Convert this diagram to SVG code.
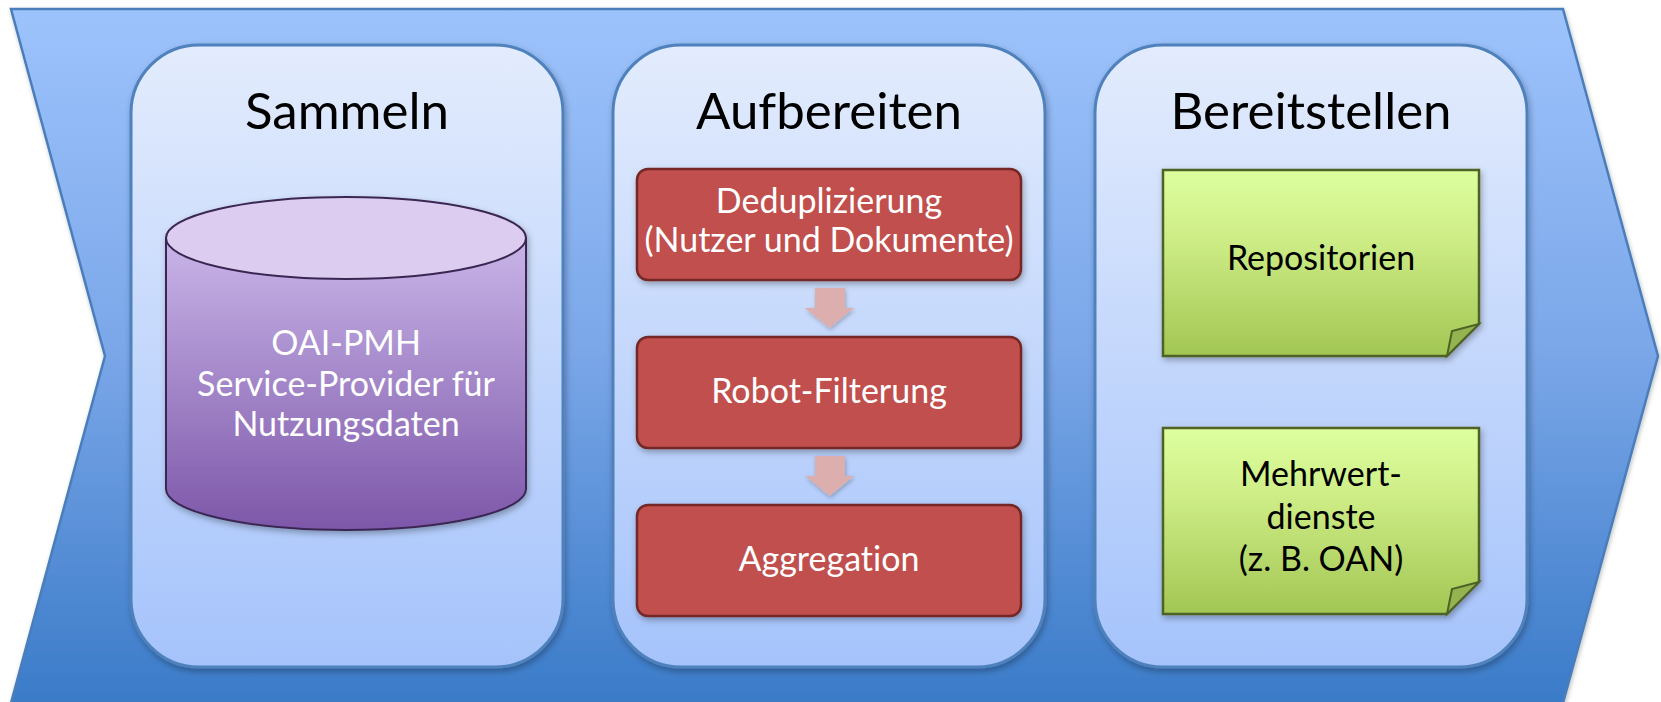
<svg xmlns="http://www.w3.org/2000/svg" width="1661" height="702" viewBox="0 0 1661 702">
<defs>
<linearGradient id="gChev" x1="0" y1="0" x2="0" y2="1">
<stop offset="0" stop-color="#9dc3fc"/>
<stop offset="0.5" stop-color="#7aa6e8"/>
<stop offset="1" stop-color="#3a7bc8"/>
</linearGradient>
<linearGradient id="gPanel" x1="0" y1="0" x2="0" y2="1">
<stop offset="0" stop-color="#e3ecfd"/>
<stop offset="1" stop-color="#a5c3fb"/>
</linearGradient>
<linearGradient id="gCyl" x1="0" y1="0" x2="0" y2="1">
<stop offset="0" stop-color="#c9b5e8"/>
<stop offset="1" stop-color="#7d57a9"/>
</linearGradient>
<linearGradient id="gNote" x1="0" y1="0" x2="0" y2="1">
<stop offset="0" stop-color="#ddff9e"/>
<stop offset="0.35" stop-color="#cfee88"/>
<stop offset="1" stop-color="#a2c653"/>
</linearGradient>
<filter id="sh" x="-10%" y="-10%" width="120%" height="125%">
<feDropShadow dx="1.5" dy="3" stdDeviation="3" flood-color="#000" flood-opacity="0.3"/>
</filter>
<filter id="shs" x="-10%" y="-10%" width="120%" height="130%">
<feDropShadow dx="1" dy="2" stdDeviation="2" flood-color="#000" flood-opacity="0.25"/>
</filter>
</defs>
<style>
text{font-variant-ligatures:none;font-feature-settings:"liga" 0,"clig" 0}
.chev{fill:url(#gChev);stroke:#4a7ebb;stroke-width:2.5;stroke-linejoin:miter}
.panel{fill:url(#gPanel);stroke:#4f81bd;stroke-width:3}
.title{font-family:Lato,"Liberation Sans",sans-serif;font-size:51px;fill:#000;text-anchor:middle}
.cylbody{fill:url(#gCyl);stroke:#3b2853;stroke-width:2}
.cyltop{fill:#dccdf0;stroke:#3b2853;stroke-width:2}
.red{fill:#c0504d;stroke:#742826;stroke-width:2.5}
.wt{font-family:Lato,"Liberation Sans",sans-serif;font-size:34px;fill:#fff;text-anchor:middle}
.bt{font-family:Lato,"Liberation Sans",sans-serif;font-size:34px;fill:#000;text-anchor:middle}
.note{fill:url(#gNote);stroke:#4f6228;stroke-width:2.5;stroke-linejoin:miter}
.fold{fill:#93b44f;stroke:#4f6228;stroke-width:2;stroke-linejoin:miter}
.arr{fill:#dcaeae}
</style>
<g id="chevron" filter="url(#shs)">
<polygon class="chev" points="11,9 1563,9 1658,356 1563,703 11,703 105,356"/>
</g>
<g id="panel-sammeln">
<rect class="panel" x="131" y="45" width="432" height="622" rx="68" ry="68" filter="url(#sh)"/>
<text class="title" x="347" y="129">Sammeln</text>
</g>
<g id="panel-aufbereiten">
<rect class="panel" x="613" y="45" width="432" height="622" rx="68" ry="68" filter="url(#sh)"/>
<text class="title" x="829" y="129">Aufbereiten</text>
</g>
<g id="panel-bereitstellen">
<rect class="panel" x="1095" y="45" width="432" height="622" rx="68" ry="68" filter="url(#sh)"/>
<text class="title" x="1311" y="129">Bereitstellen</text>
</g>
<g id="cylinder">
<g filter="url(#sh)">
<path class="cylbody" d="M166,238 L166,489 A180,41 0 0 0 526,489 L526,238 Z"/>
<ellipse class="cyltop" cx="346" cy="238" rx="180" ry="41"/>
</g>
<text class="wt" x="346" y="355">OAI-PMH</text>
<text class="wt" x="346" y="396">Service-Provider für</text>
<text class="wt" x="346" y="436">Nutzungsdaten</text>
</g>
<g id="box-dedup">
<rect class="red" x="637" y="169" width="384" height="111" rx="11" filter="url(#sh)"/>
<text class="wt" x="829" y="213">Deduplizierung</text>
<text class="wt" x="829" y="252">(Nutzer und Dokumente)</text>
</g>
<g id="box-robot">
<rect class="red" x="637" y="337" width="384" height="111" rx="11" filter="url(#sh)"/>
<text class="wt" x="829" y="403">Robot-Filterung</text>
</g>
<g id="box-agg">
<rect class="red" x="637" y="505" width="384" height="111" rx="11" filter="url(#sh)"/>
<text class="wt" x="829" y="571">Aggregation</text>
</g>
<g id="connectors">
<polygon class="arr" points="815,288 845,288 845,308 854,308 829.5,328 805,308 815,308" filter="url(#shs)"/>
<polygon class="arr" points="815,456 845,456 845,476 854,476 829.5,496 805,476 815,476" filter="url(#shs)"/>
</g>
<g id="note-repositorien">
<g filter="url(#sh)">
<path class="note" d="M1163,170 L1479,170 L1479,324 L1447,356 L1163,356 Z"/>
<path class="fold" d="M1479,324 L1452,331 L1447,356 Z"/>
</g>
<text class="bt" x="1321" y="270">Repositorien</text>
</g>
<g id="note-mehrwert">
<g filter="url(#sh)">
<path class="note" d="M1163,428 L1479,428 L1479,582 L1447,614 L1163,614 Z"/>
<path class="fold" d="M1479,582 L1452,589 L1447,614 Z"/>
</g>
<text class="bt" x="1321" y="486">Mehrwert-</text>
<text class="bt" x="1321" y="529">dienste</text>
<text class="bt" x="1321" y="571">(z. B. OAN)</text>
</g>
</svg>
